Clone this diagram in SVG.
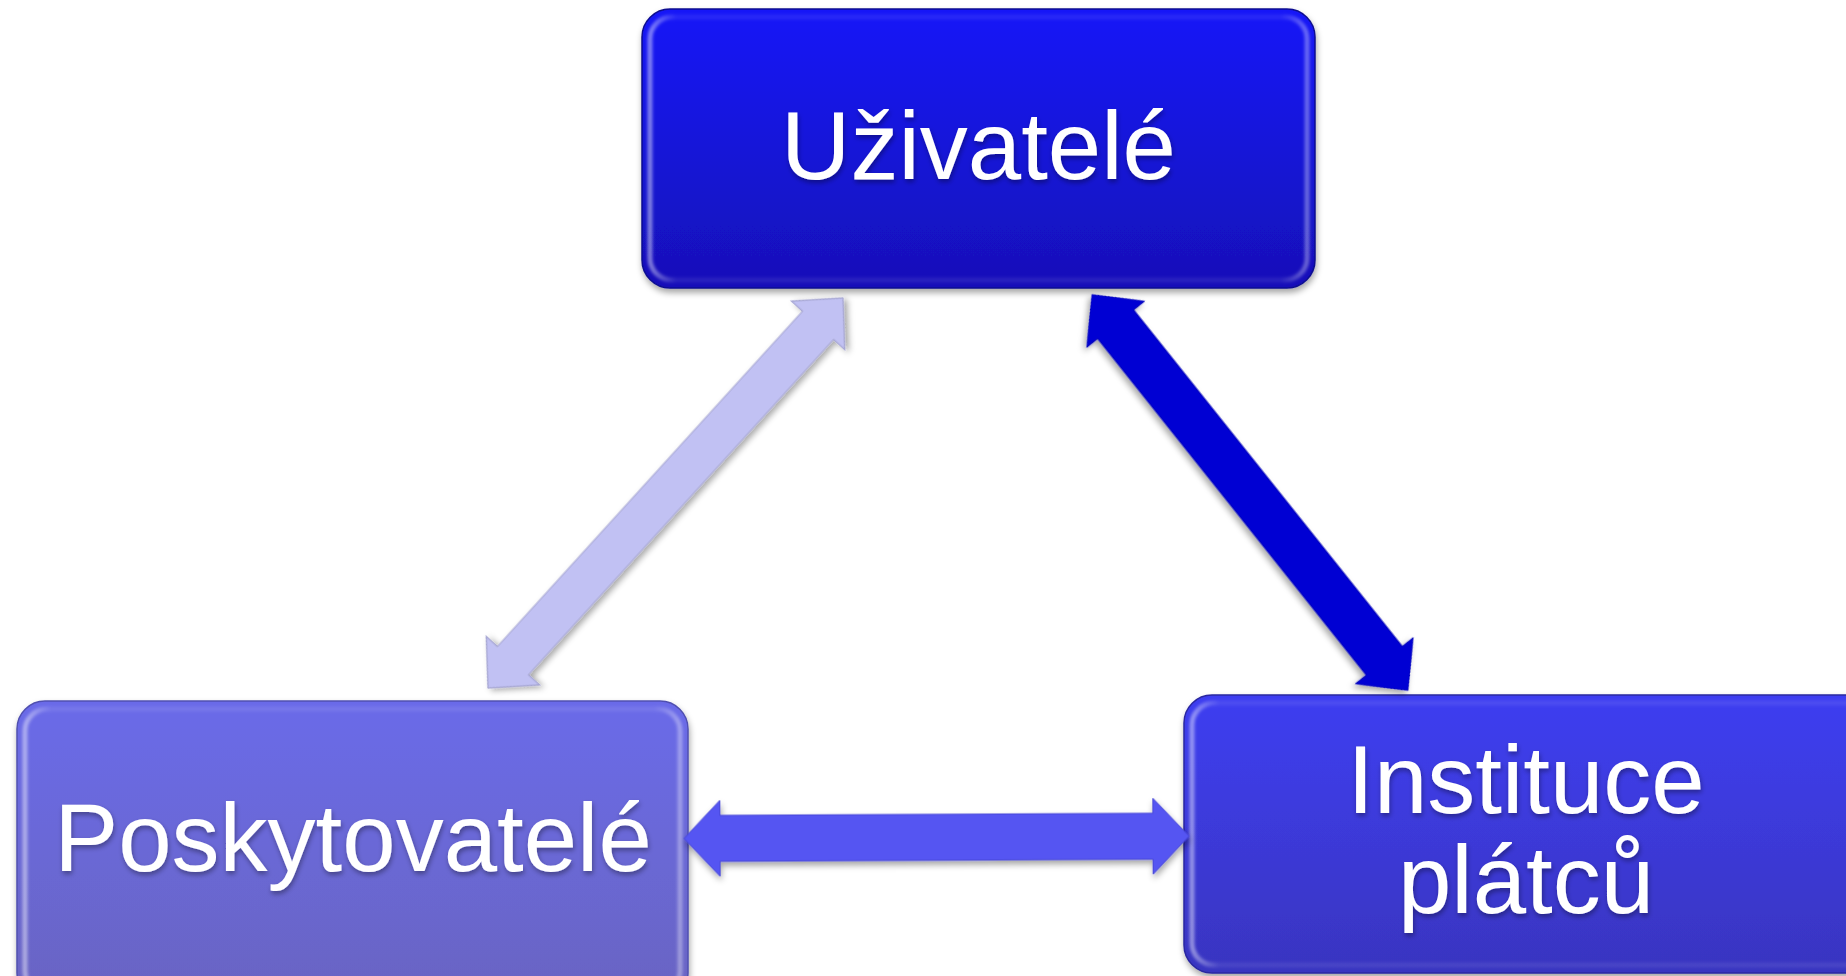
<svg xmlns="http://www.w3.org/2000/svg" width="1846" height="976" viewBox="0 0 1846 976">
  <defs>
    <linearGradient id="gTop" x1="0" y1="0" x2="0" y2="1">
      <stop offset="0" stop-color="#1519F8"/>
      <stop offset="1" stop-color="#1410B8"/>
    </linearGradient>
    <linearGradient id="gLeft" x1="0" y1="0" x2="0" y2="1">
      <stop offset="0" stop-color="#6B6BE9"/>
      <stop offset="1" stop-color="#6964C2"/>
    </linearGradient>
    <linearGradient id="gRight" x1="0" y1="0" x2="0" y2="1">
      <stop offset="0" stop-color="#3E3EF1"/>
      <stop offset="1" stop-color="#3935C0"/>
    </linearGradient>
    <linearGradient id="gBevel" x1="0" y1="0" x2="1" y2="0">
      <stop offset="0" stop-color="#FFFFFF" stop-opacity="0.45"/>
      <stop offset="0.04" stop-color="#FFFFFF" stop-opacity="0.08"/>
      <stop offset="0.96" stop-color="#FFFFFF" stop-opacity="0.08"/>
      <stop offset="1" stop-color="#FFFFFF" stop-opacity="0.35"/>
    </linearGradient>
    <filter id="shadow" x="-10%" y="-10%" width="120%" height="130%">
      <feDropShadow dx="1" dy="4" stdDeviation="3" flood-color="#000" flood-opacity="0.35"/>
    </filter>
    <filter id="tshadow" x="-10%" y="-20%" width="120%" height="140%">
      <feDropShadow dx="1" dy="3" stdDeviation="2.5" flood-color="#000" flood-opacity="0.35"/>
    </filter>
    <filter id="soft" x="-5%" y="-5%" width="110%" height="110%">
      <feGaussianBlur stdDeviation="1.5"/>
    </filter>
  </defs>
  <style>
    .box { stroke-width: 1.5; }
    .bevel { fill: none; stroke: url(#gBevel); stroke-width: 5; }
    .label { font-family: "Liberation Sans", Arial, sans-serif; font-size: 96px; fill: #FFFFFF; text-anchor: middle; }
    .arrow { filter: url(#shadow); }
  </style>

  <g id="node-uzivatele">
    <rect class="box" x="642" y="9" width="673" height="279" rx="28" fill="url(#gTop)" stroke="#0E0C90" filter="url(#shadow)"/>
    <rect class="bevel" x="650" y="17" width="657" height="263" rx="22" filter="url(#soft)"/>
    <text class="label" x="978.5" y="179" filter="url(#tshadow)">Uživatelé</text>
  </g>

  <g id="node-poskytovatele">
    <rect class="box" x="17" y="701" width="671" height="300" rx="28" fill="url(#gLeft)" stroke="#5050B0" filter="url(#shadow)"/>
    <rect class="bevel" x="25" y="709" width="655" height="284" rx="22" filter="url(#soft)"/>
    <text class="label" x="353" y="871" filter="url(#tshadow)">Poskytovatelé</text>
  </g>

  <g id="node-instituce">
    <rect class="box" x="1184" y="695" width="700" height="278" rx="28" fill="url(#gRight)" stroke="#2A28A0" filter="url(#shadow)"/>
    <rect class="bevel" x="1192" y="703" width="684" height="262" rx="22" filter="url(#soft)"/>
    <text class="label" x="1526" y="813" filter="url(#tshadow)">Instituce</text>
    <text class="label" x="1526" y="913" filter="url(#tshadow)">plátců</text>
  </g>

  <g id="connectors">
    <polygon class="arrow" transform="translate(665.5,493) rotate(-47.7)" fill="#C1C1F3" stroke="#A6A6D2" stroke-width="1.2"
      points="-263.7,0 -226.7,-36 -226.7,-21 226.7,-21 226.7,-36 263.7,0 226.7,36 226.7,21 -226.7,21 -226.7,36"/>
    <polygon class="arrow" transform="translate(1250,492.5) rotate(51.4)" fill="#0000D3" stroke="#0000B8" stroke-width="1"
      points="-253.3,0 -215.3,-37 -215.3,-23 215.3,-23 215.3,-37 253.3,0 215.3,37 215.3,23 -215.3,23 -215.3,37"/>
    <polygon class="arrow" transform="translate(936.5,837.3) rotate(-0.28)" fill="#5555F2" stroke="#4646D6" stroke-width="1"
      points="-252.5,0 -216.5,-38 -216.5,-23 216.5,-23 216.5,-38 252.5,0 216.5,38 216.5,23 -216.5,23 -216.5,38"/>
  </g>
</svg>
